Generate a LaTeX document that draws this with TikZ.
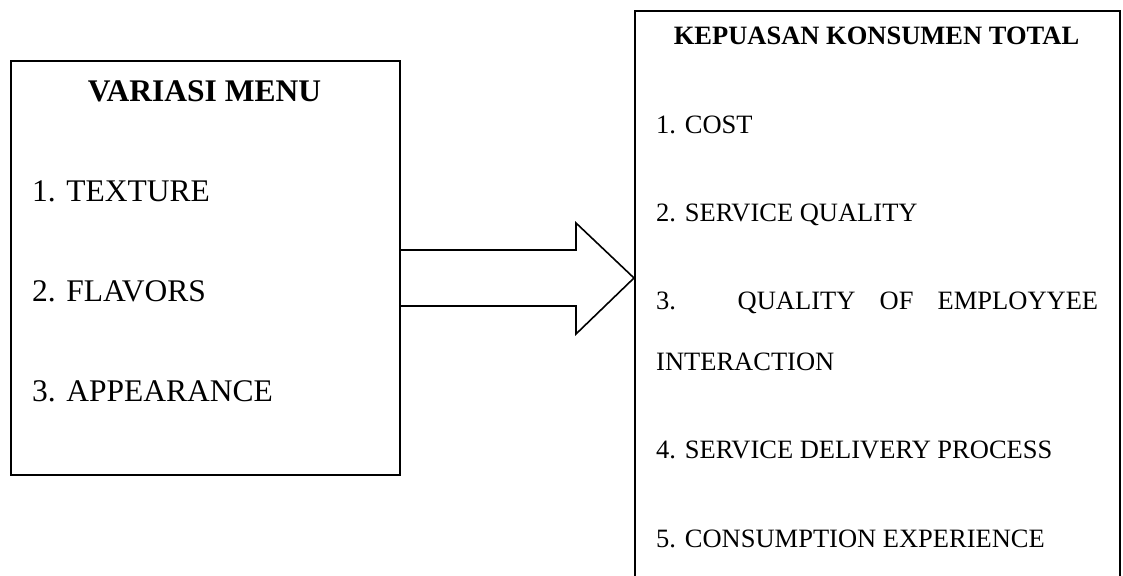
\documentclass[tikz,border=0pt]{standalone}
\usepackage{fontspec}
\setmainfont{Liberation Serif}
\usetikzlibrary{positioning}

\begin{document}
\begin{tikzpicture}[x=1pt, y=-1pt,
  box/.style={draw, line width=1.6pt, anchor=north west, inner sep=0pt},
  title/.style={font=\fontsize{#1}{#1}\selectfont\bfseries, anchor=base, inner sep=0pt},
  item/.style={font=\fontsize{#1}{#1}\selectfont, anchor=base west, inner sep=0pt},
  bigarrow/.style={draw, line width=1.6pt, line join=miter},
]
  \useasboundingbox (0,0) rectangle (1123,575);
  \clip (0,0) rectangle (1123,575);

  % Boxes
  \node[box, minimum width=389pt, minimum height=414pt] (menu) at (10,60) {};
  \node[box, minimum width=485pt, minimum height=620pt] (puas) at (634,10) {};

  % Arrow
  \coordinate (tip) at (puas.west |- 0,278);
  \draw[bigarrow] (menu.east |- 0,250) -- (576,250) -- (576,223) -- (tip)
    -- (576,334) -- (576,306) -- (menu.east |- 0,306);

  % Variasi menu
  \node[title=31.5] (menuhead) at (204.5,101.7) {VARIASI MENU};
  \foreach \t [count=\i] in {TEXTURE, FLAVORS, APPEARANCE}
    \node[item=31.5] (menu\i) at (32,101.7+100*\i) {\i. \t};

  % Kepuasan konsumen
  \node[title=26.5] (puashead) at (876.5,45) {KEPUASAN KONSUMEN TOTAL};
  \node[item=26.5] (puas1) at (656,133) {1. COST};
  \node[item=26.5] (puas2) at (656,221) {2. SERVICE QUALITY};
  \node[item=26.5] (puas3) at (656,309) {\makebox[442pt][s]{3. QUALITY OF EMPLOYYEE}};
  \node[item=26.5] (puas3b) at (656,370) {INTERACTION};
  \node[item=26.5] (puas4) at (656,458) {4. SERVICE DELIVERY PROCESS};
  \node[item=26.5] (puas5) at (656,547) {5. CONSUMPTION EXPERIENCE};
\end{tikzpicture}
\end{document}
